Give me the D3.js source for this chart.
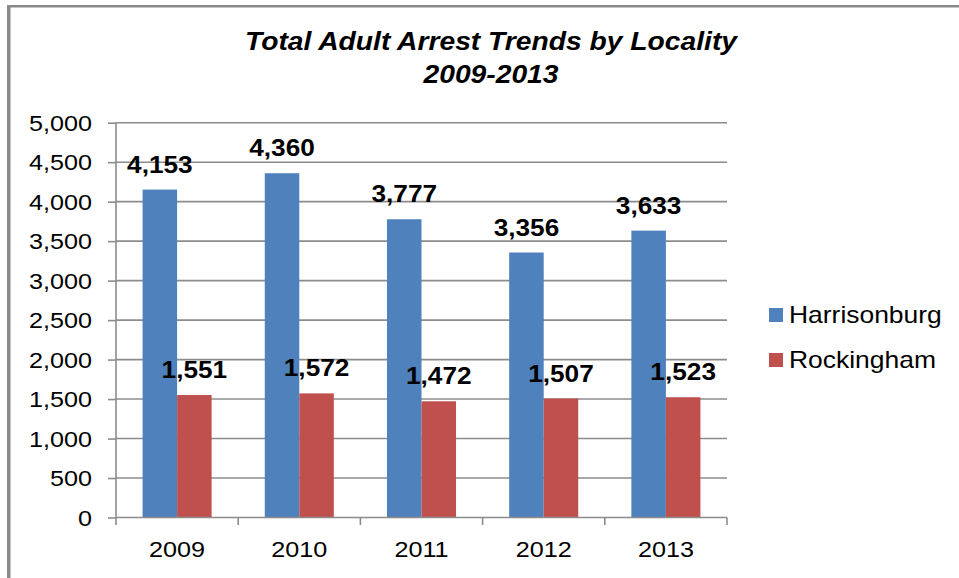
<!DOCTYPE html>
<html>
<head>
<meta charset="utf-8">
<script src="https://cdn.jsdelivr.net/npm/d3@7"></script>
<style>
  html, body { margin: 0; padding: 0; background: #fff; }
  svg { display: block; font-family: Arial, "Liberation Sans", sans-serif; }
</style>
</head>
<body>
<svg id="chart" width="959" height="578"></svg>
<script>
// Adult arrests per year, by locality
const years = ["2009", "2010", "2011", "2012", "2013"];
const seriesNames = ["Harrisonburg", "Rockingham"];
const harrisonburg = [4153, 4360, 3777, 3356, 3633];
const rockingham = [1551, 1572, 1472, 1507, 1523];
const yTicks = [0, 500, 1000, 1500, 2000, 2500, 3000, 3500, 4000, 4500, 5000];
const colors = ["#4F81BD", "#C0504D"];

const svg = d3.select("#chart");
const W = 959, H = 578;
const plot = { left: 116, right: 727, top: 122.7, bottom: 517.5 };

const x = d3.scaleBand().domain(years).range([plot.left, plot.right]).paddingInner(0).paddingOuter(0);
const inner = d3.scaleBand().domain(seriesNames).range([0, x.bandwidth()]).paddingInner(0).paddingOuter(0.77);
const y = d3.scaleLinear().domain([0, 5000]).range([plot.bottom, plot.top]);
const fmt = d3.format(",");

// helper: text placed with a horizontal stretch
function label(g, tx, ty, str, opts) {
  const sx = opts.sx || 1.14;
  return g.append("text")
    .attr("transform", `translate(${tx},${ty}) scale(${sx},1)`)
    .attr("text-anchor", opts.anchor || "middle")
    .attr("font-size", opts.size)
    .attr("font-weight", opts.weight || "normal")
    .attr("font-style", opts.style || "normal")
    .attr("fill", "#000")
    .text(str);
}

// frame
svg.append("rect").attr("x", 7).attr("y", 5).attr("width", W - 7).attr("height", 2.5).attr("fill", "#8a8a8a");
svg.append("rect").attr("x", 7).attr("y", 5).attr("width", 3.5).attr("height", H - 5).attr("fill", "#8a8a8a");

// title
const tg = svg.append("g");
label(tg, 491, 50, "Total Adult Arrest Trends by Locality", { size: 25, weight: "bold", style: "italic", sx: 1.13 });
label(tg, 491, 83, "2009-2013", { size: 25, weight: "bold", style: "italic", sx: 1.13 });

// gridlines + y axis
const yAxis = d3.axisLeft(y).tickValues(yTicks).tickSize(8).tickFormat("");
const gy = svg.append("g").attr("transform", `translate(${plot.left},0)`).call(yAxis);
gy.select(".domain").remove();
gy.selectAll(".tick line").attr("stroke", "#8c8c8c").attr("stroke-width", 1.6);
svg.append("g").selectAll("line.grid").data(yTicks.filter(d => d > 0)).join("line")
  .attr("x1", plot.left).attr("x2", plot.right)
  .attr("y1", d => y(d)).attr("y2", d => y(d))
  .attr("stroke", "#8c8c8c").attr("stroke-width", 1.6);
svg.append("line").attr("x1", plot.left).attr("x2", plot.left)
  .attr("y1", plot.top).attr("y2", plot.bottom)
  .attr("stroke", "#8c8c8c").attr("stroke-width", 1.6);

const ylab = svg.append("g");
yTicks.forEach(v => label(ylab, 92, y(v) + 8, fmt(v), { size: 22.5, anchor: "end", sx: 1.12 }));

// bars
const data = years.map((yr, i) => ({ year: yr, values: [harrisonburg[i], rockingham[i]] }));
const groups = svg.append("g").selectAll("g").data(data).join("g")
  .attr("transform", d => `translate(${x(d.year)},0)`);
groups.selectAll("rect").data(d => d.values.map((v, k) => ({ name: seriesNames[k], v, k }))).join("rect")
  .attr("x", d => inner(d.name))
  .attr("width", inner.bandwidth())
  .attr("y", d => y(d.v))
  .attr("height", d => y(0) - y(d.v))
  .attr("fill", d => colors[d.k]);

// x axis
svg.append("line").attr("x1", plot.left).attr("x2", plot.right)
  .attr("y1", plot.bottom).attr("y2", plot.bottom)
  .attr("stroke", "#8c8c8c").attr("stroke-width", 1.6);
const bounds = years.map(d => x(d)).concat([x(years[years.length - 1]) + x.bandwidth()]);
svg.append("g").selectAll("line").data(bounds).join("line")
  .attr("x1", d => d).attr("x2", d => d)
  .attr("y1", plot.bottom).attr("y2", plot.bottom + 7.5)
  .attr("stroke", "#8c8c8c").attr("stroke-width", 1.6);
const xlab = svg.append("g");
years.forEach(yr => label(xlab, x(yr) + x.bandwidth() / 2, 557, yr, { size: 22.5, sx: 1.12 }));

// value labels
const vl = svg.append("g");
data.forEach(d => {
  d.values.forEach((v, k) => {
    const cx = x(d.year) + inner(seriesNames[k]) + inner.bandwidth() / 2;
    label(vl, cx, y(v) - 17, fmt(v), { size: 23, weight: "bold" });
  });
});

// legend
const lg = svg.append("g");
seriesNames.forEach((n, k) => {
  const cy = 315 + k * 45;
  lg.append("rect").attr("x", 769).attr("y", cy - 7).attr("width", 14).attr("height", 14).attr("fill", colors[k]);
  label(lg, 789, cy + 8, n, { size: 23, anchor: "start", sx: 1.15 });
});
</script>
</body>
</html>
